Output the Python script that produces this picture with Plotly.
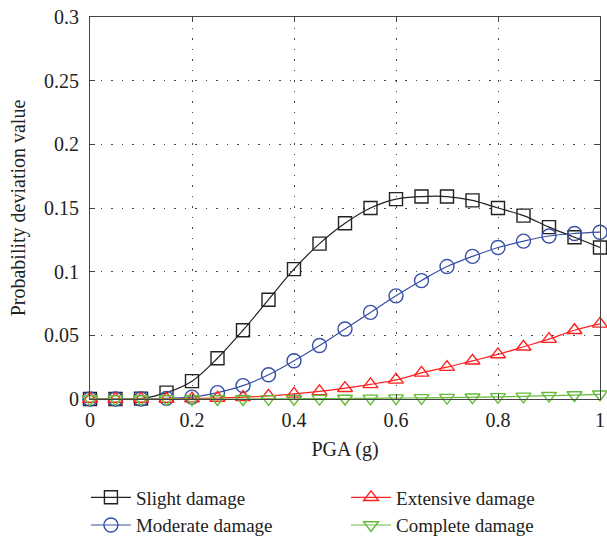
import plotly.graph_objects as go

pga = [0, 0.05, 0.1, 0.15, 0.2, 0.25, 0.3, 0.35, 0.4, 0.45, 0.5,
       0.55, 0.6, 0.65, 0.7, 0.75, 0.8, 0.85, 0.9, 0.95, 1.0]
slight = [0, 0, 0.0003, 0.005, 0.014, 0.032, 0.054, 0.078, 0.102, 0.122, 0.138,
          0.15, 0.157, 0.159, 0.159, 0.156, 0.15, 0.144, 0.135, 0.127, 0.119]
moderate = [0, 0, 0, 0.0005, 0.0015, 0.005, 0.0105, 0.019, 0.030, 0.042, 0.055,
            0.068, 0.081, 0.093, 0.104, 0.112, 0.119, 0.124, 0.128, 0.130, 0.131]
extensive = [0, 0, 0, 0, 0.0003, 0.0008, 0.0014, 0.0024, 0.004, 0.006, 0.0085,
             0.0115, 0.015, 0.0205, 0.025, 0.030, 0.035, 0.041, 0.047, 0.054, 0.059]
complete = [0, 0, 0, 0, 0, 0, 0, 0.0001, 0.0002, 0.0003, 0.0004,
            0.0005, 0.0007, 0.0009, 0.0011, 0.0014, 0.0017, 0.0021, 0.0026, 0.0031, 0.0037]
x_ticks = [0, 0.2, 0.4, 0.6, 0.8, 1]
x_labels = ["0", "0.2", "0.4", "0.6", "0.8", "1"]
y_ticks = [0, 0.05, 0.1, 0.15, 0.2, 0.25, 0.3]
y_labels = ["0", "0.05", "0.1", "0.15", "0.2", "0.25", "0.3"]

series = [
    ("Slight damage", slight, "#222222", "square-open", 13, "legend"),
    ("Moderate damage", moderate, "#3650a8", "circle-open", 14, "legend"),
    ("Extensive damage", extensive, "#ff2020", "triangle-up-open", 13, "legend2"),
    ("Complete damage", complete, "#66bb3a", "triangle-down-open", 13, "legend2"),
]

fig = go.Figure()
for name, vals, col, sym, sz, lg in series:
    fig.add_trace(go.Scatter(
        x=pga, y=vals, name=name, mode="lines+markers",
        line=dict(color=col, width=1.2, shape="spline"),
        marker=dict(symbol=sym, size=sz, color=col, line=dict(width=1.4, color=col)),
        cliponaxis=False, legend=lg,
    ))

font = dict(family="Liberation Serif, Times New Roman, serif", size=20, color="#222")
lfont = dict(family="Liberation Serif, Times New Roman, serif", size=19, color="#222")
axis_common = dict(
    showline=True, linecolor="#444", linewidth=1, mirror="ticks",
    ticks="inside", ticklen=5, tickcolor="#444",
    showgrid=True, gridcolor="#444", griddash="1.5px,9px", gridwidth=1,
    zeroline=False, tickfont=font, automargin=False,
    ticklabeloverflow="allow",
)

fig.update_layout(
    width=607, height=539,
    margin=dict(l=90, r=7, t=17, b=140, autoexpand=False),
    paper_bgcolor="white", plot_bgcolor="white",
    font=font,
    xaxis=dict(range=[0, 1], tickvals=x_ticks, ticktext=x_labels, ticklabelstandoff=3,
               title=dict(text="PGA (g)", font=font, standoff=11), **axis_common),
    yaxis=dict(range=[0, 0.3], tickvals=y_ticks, ticktext=y_labels, ticklabelstandoff=6,
               title=dict(text="Probability deviation value", font=font, standoff=13),
               **axis_common),
    legend=dict(x=-0.008, y=-0.208, xanchor="left", yanchor="top",
                bgcolor="rgba(0,0,0,0)", font=lfont, tracegroupgap=0,
                itemwidth=40),
    legend2=dict(x=0.502, y=-0.208, xanchor="left", yanchor="top",
                 bgcolor="rgba(0,0,0,0)", font=lfont, tracegroupgap=0,
                 itemwidth=40),
    showlegend=True,
)

fig.write_html(
    "out.html",
    config={"displayModeBar": False},
    post_script="document.body.style.margin='0';document.body.style.overflow='hidden';",
)
